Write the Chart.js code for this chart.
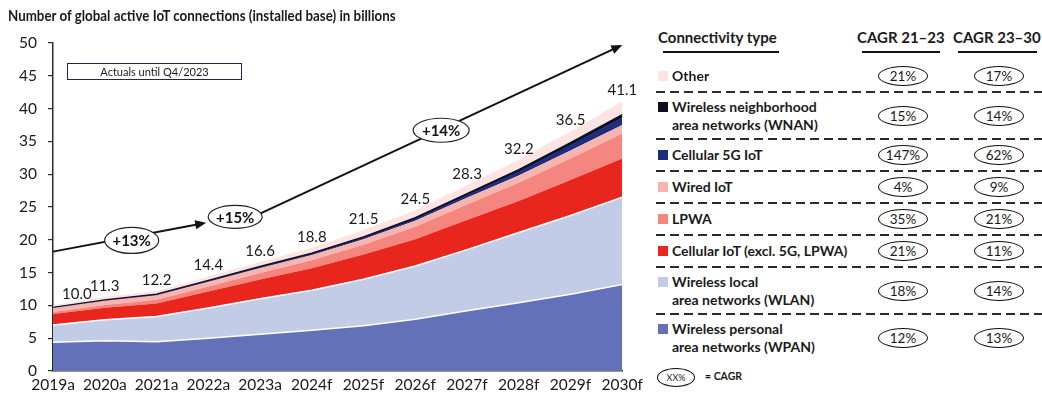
<!DOCTYPE html>
<html>
<head>
<meta charset="utf-8">
<script src="https://cdn.jsdelivr.net/npm/chart.js@4"></script>
<style>
  body { margin: 0; background: #fff; font-family: Lato, sans-serif; color: #1a1a1a; }
  #wrap { position: relative; width: 1042px; height: 396px; overflow: hidden; }
  #iot { position: absolute; left: 0; top: 0; }
  #title { position: absolute; left: 8px; top: 7px; font-weight: bold; font-size: 14.5px; white-space: nowrap;
           transform: scaleX(0.92); transform-origin: left top; }
  #actuals { position: absolute; left: 67px; top: 63px; width: 173px; height: 15px; border: 1.5px solid #1f2747;
             font-size: 11px; line-height: 15px; text-align: center; }
  .hdr { position: absolute; top: 28px; font-weight: bold; font-size: 15px; white-space: nowrap; }
  .uline { position: absolute; top: 51px; height: 2px; background: #111; }
  #legend { position: absolute; left: 656px; top: 61px; width: 386px; }
  .row { position: relative; }
  .sw { position: absolute; left: 2px; width: 10px; height: 10px; }
  .lab { position: absolute; left: 16px; top: 50%; transform: translateY(-50%); font-weight: bold; font-size: 14px;
         line-height: 18px; white-space: nowrap; }
  .ell { position: absolute; top: 50%; width: 48px; height: 18px; margin-left: -25px; margin-top: -10px;
         border: 1.5px solid #111; border-radius: 50%; font-size: 13.5px; line-height: 18px; text-align: center; }
  .sep { height: 2px; background: repeating-linear-gradient(to right, #2a2a2a 0 9px, transparent 9px 14px); }
  #foot { position: absolute; left: 657px; top: 368px; }
</style>
</head>
<body>
<div id="wrap">
  <canvas id="iot" width="648" height="396"></canvas>
  <div id="title">Number of global active IoT connections (installed base) in billions</div>
  <div id="actuals">Actuals until Q4/2023</div>
  <div class="hdr" style="left:658px">Connectivity type</div>
  <div class="hdr" style="left:857px">CAGR 21–23</div>
  <div class="hdr" style="left:953px">CAGR 23–30</div>
  <div class="uline" style="left:663px;width:116px"></div>
  <div class="uline" style="left:862px;width:78px"></div>
  <div class="uline" style="left:958px;width:79px"></div>
  <div id="legend"></div>
  <div id="foot">
    <div style="position:absolute;left:0;top:0;width:36px;height:17px;border:1.5px solid #111;border-radius:50%;font-size:9px;line-height:17px;text-align:center;">XX%</div>
    <div style="position:absolute;left:48px;top:2px;font-weight:bold;font-size:10.5px;white-space:nowrap;">= CAGR</div>
  </div>
</div>
<script>
const years = ['2019a', '2020a', '2021a', '2022a', '2023a', '2024f', '2025f', '2026f', '2027f', '2028f', '2029f', '2030f'];

// stacked layers, bottom to top (billions)
const wpan      = [4.4, 4.6, 4.45, 5.0, 5.6, 6.2, 6.9, 7.9, 9.2, 10.4, 11.7, 13.2];
const wlan      = [2.6, 3.2, 3.85, 4.6, 5.4, 6.1, 7.1, 8.1, 9.3, 10.7, 12.0, 13.3];
const cellular  = [1.7, 1.85, 2.0, 2.5, 2.95, 3.35, 3.75, 4.1, 4.5, 4.8, 5.4, 5.9];
const lpwa      = [0.3, 0.4, 0.55, 0.8, 1.0, 1.25, 1.5, 1.9, 2.4, 2.8, 3.3, 3.8];
const wiredIot  = [0.6, 0.65, 0.7, 0.72, 0.75, 0.8, 0.85, 0.9, 1.0, 1.1, 1.2, 1.3];
const cell5g    = [0, 0, 0.01, 0.02, 0.04, 0.07, 0.12, 0.2, 0.35, 0.55, 0.8, 1.1];
const wnan      = [0.1, 0.13, 0.15, 0.17, 0.2, 0.22, 0.25, 0.28, 0.32, 0.37, 0.43, 0.5];
const other     = [0.3, 0.47, 0.49, 0.59, 0.66, 0.81, 1.03, 1.12, 1.23, 1.48, 1.67, 2.0];

const totals = [10.0, 11.3, 12.2, 14.4, 16.6, 18.8, 21.5, 24.5, 28.3, 32.2, 36.5, 41.1];

const seriesNames = ['Wireless personal\narea networks (WPAN)', 'Wireless local\narea networks (WLAN)',
  'Cellular IoT (excl. 5G, LPWA)', 'LPWA', 'Wired IoT', 'Cellular 5G IoT',
  'Wireless neighborhood\narea networks (WNAN)', 'Other'];
const cagr2123 = ['12%', '18%', '21%', '35%', '4%', '147%', '15%', '21%'];
const cagr2330 = ['13%', '14%', '11%', '21%', '9%', '62%', '14%', '17%'];
const trendLabels = ['+13%', '+15%', '+14%'];

const series = [wpan, wlan, cellular, lpwa, wiredIot, cell5g, wnan, other];
const colors = ['#6371b8', '#c3cce6', '#e8261d', '#f4867f', '#f8b5b0', '#1f2d80', '#0e0f1f', '#fde4e2'];
const borders = [
  { c: '#ffffff', w: 1.5 }, { c: '#ffffff', w: 1.5 }, { c: '#e8261d', w: 0 }, { c: '#f4867f', w: 0 },
  { c: '#f8b5b0', w: 0 }, { c: '#1f2d80', w: 1 }, { c: '#0e0f1f', w: 1.2 }, { c: '#fde4e2', w: 0 }
];

// arrows and bubbles in data coordinates (category index, value)
const arrows = [[0, 18.2, 2.96, 22.6], [4.0, 24.0, 11, 49.7]];
const bubbles = [[1.52, 19.9, 27, 13], [3.52, 23.5, 27, 11.5], [7.5, 36.7, 28, 12]];

const overlay = {
  id: 'overlay',
  afterDatasetsDraw(chart) {
    const { ctx, scales: { x, y } } = chart;
    ctx.save();
    ctx.strokeStyle = '#111';
    ctx.fillStyle = '#111';
    ctx.lineWidth = 2;
    arrows.forEach(a => {
      const x0 = x.getPixelForValue(a[0]), y0 = y.getPixelForValue(a[1]);
      const x1 = x.getPixelForValue(a[2]), y1 = y.getPixelForValue(a[3]);
      const ang = Math.atan2(y1 - y0, x1 - x0);
      const c = Math.cos(ang), s = Math.sin(ang);
      ctx.beginPath();
      ctx.moveTo(x0, y0);
      ctx.lineTo(x1 - 8 * c, y1 - 8 * s);
      ctx.stroke();
      ctx.beginPath();
      ctx.moveTo(x1, y1);
      ctx.lineTo(x1 - 11 * c + 4.5 * s, y1 - 11 * s - 4.5 * c);
      ctx.lineTo(x1 - 11 * c - 4.5 * s, y1 - 11 * s + 4.5 * c);
      ctx.closePath();
      ctx.fill();
    });

    ctx.font = 'bold 15px Lato';
    ctx.textAlign = 'center';
    ctx.textBaseline = 'middle';
    bubbles.forEach((b, i) => {
      const cx = x.getPixelForValue(b[0]), cy = y.getPixelForValue(b[1]);
      ctx.beginPath();
      ctx.ellipse(cx, cy, b[2], b[3], 0, 0, Math.PI * 2);
      ctx.fillStyle = '#fff';
      ctx.fill();
      ctx.lineWidth = 1.2;
      ctx.strokeStyle = '#222';
      ctx.stroke();
      ctx.fillStyle = '#111';
      ctx.fillText(trendLabels[i], cx, cy + 1);
    });

    ctx.font = '15px Lato';
    ctx.fillStyle = '#1a1a1a';
    totals.forEach((t, i) => {
      const px = x.getPixelForValue(i), py = y.getPixelForValue(t);
      if (i === 0) {
        ctx.textAlign = 'left';
        ctx.fillText(t.toFixed(1), px + 9, py - 11);
      } else {
        ctx.textAlign = 'center';
        ctx.fillText(t.toFixed(1), px, py - 11);
      }
    });
    ctx.restore();
  }
};

new Chart(document.getElementById('iot'), {
  type: 'line',
  data: {
    labels: years,
    datasets: series.map((d, i) => ({
      label: seriesNames[i].replace('\n', ' '),
      data: d,
      fill: i === 0 ? 'origin' : '-1',
      backgroundColor: colors[i],
      borderColor: borders[i].c,
      borderWidth: borders[i].w,
      pointRadius: 0,
      tension: 0
    }))
  },
  options: {
    responsive: false,
    animation: false,
    layout: { padding: { top: 43, right: 23, left: 0, bottom: 0 } },
    plugins: { legend: { display: false }, tooltip: { enabled: false } },
    scales: {
      x: {
        grid: { display: false, drawTicks: false },
        border: { color: '#2b2b2b', width: 1.5 },
        ticks: { autoSkip: false, maxRotation: 0, padding: 5, color: '#1a1a1a', font: { family: 'Lato', size: 15.5 } },
        afterFit: s => { s.height = 25; }
      },
      y: {
        stacked: true,
        min: 0,
        max: 50,
        ticks: { stepSize: 5, padding: 11, color: '#1a1a1a', font: { family: 'Lato', size: 15.5 } },
        grid: { drawOnChartArea: false, tickLength: 5, color: '#2b2b2b', lineWidth: 1.2 },
        border: { color: '#2b2b2b', width: 1.5 },
        afterFit: s => { s.width = 53; }
      }
    }
  },
  plugins: [overlay]
});

// legend table, top row first
const legend = document.getElementById('legend');
for (let i = series.length - 1; i >= 0; i--) {
  const twoLines = seriesNames[i].includes('\n');
  const h = twoLines ? 45 : 30;
  const row = document.createElement('div');
  row.className = 'row';
  row.style.height = h + 'px';
  const swTop = twoLines ? h / 2 - 9 - 5 : h / 2 - 5;
  row.innerHTML =
    '<div class="sw" style="top:' + swTop + 'px;background:' + colors[i] + '"></div>' +
    '<div class="lab">' + seriesNames[i].replace('\n', '<br>') + '</div>' +
    '<div class="ell" style="left:247px">' + cagr2123[i] + '</div>' +
    '<div class="ell" style="left:343px">' + cagr2330[i] + '</div>';
  legend.appendChild(row);
  if (i > 0) {
    const sep = document.createElement('div');
    sep.className = 'sep';
    legend.appendChild(sep);
  }
}
</script>
</body>
</html>
